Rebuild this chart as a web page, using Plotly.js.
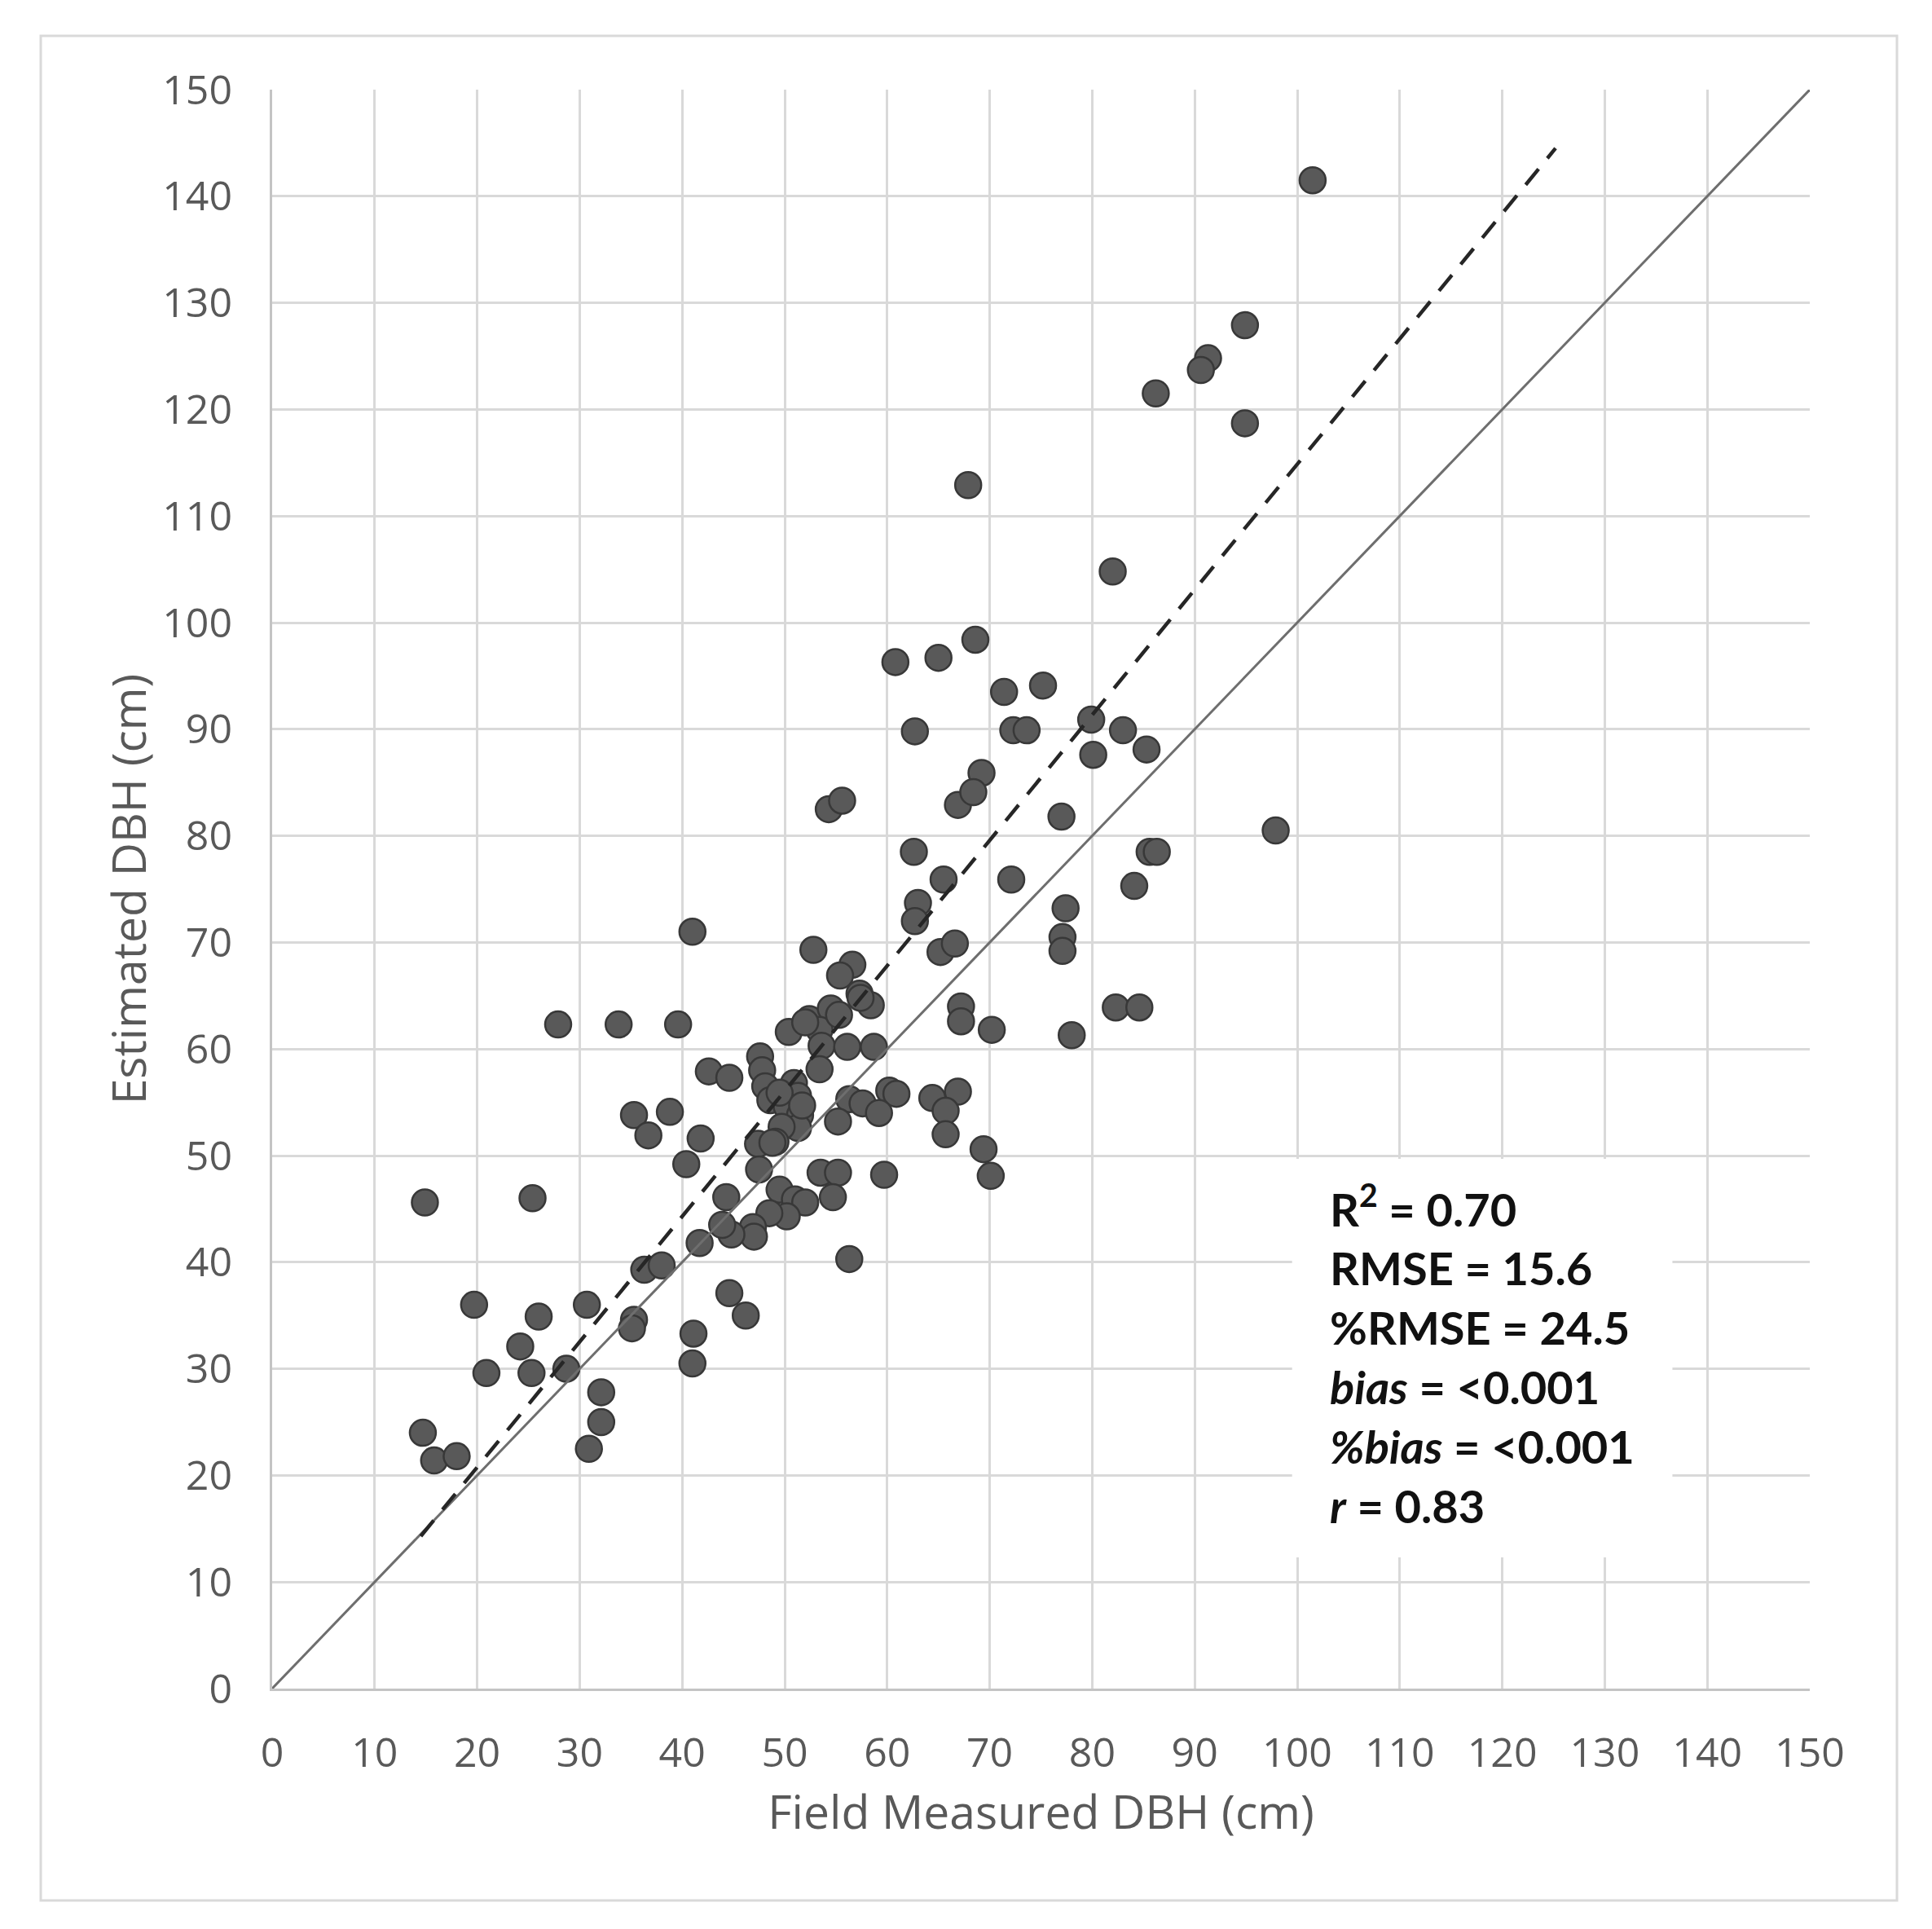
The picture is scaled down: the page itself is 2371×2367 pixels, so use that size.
<!DOCTYPE html>
<html>
<head>
<meta charset="utf-8">
<script src="https://cdn.plot.ly/plotly-3.0.1.min.js"></script>
<style>
  html, body { margin: 0; padding: 0; background: #fff; }
  #chart { width: 2371px; height: 2367px; }
</style>
</head>
<body>
<div id="chart"></div>
<script>
// Field measured vs estimated DBH (cm)
const fieldDBH = [
  101.5, 94.9, 91.3, 90.6, 86.2, 94.9, 67.9, 82.0, 68.6, 65.0,
  60.8, 71.4, 75.2, 62.7, 72.3, 73.6, 79.9, 83.0, 85.3, 80.1,
  69.2, 66.9, 68.4, 54.3, 55.6, 77.0, 97.9, 62.6, 85.6, 86.3,
  72.1, 65.5, 84.1, 77.4, 63.0, 62.7, 77.1, 77.1, 65.2, 66.6,
  52.8, 41.0, 56.6, 55.4, 57.3, 58.4, 67.2, 67.2, 82.3, 84.6,
  70.2, 78.0, 27.9, 33.8, 39.6, 50.4, 52.4, 54.5, 53.4, 53.6,
  56.1, 58.7, 53.4, 47.6, 42.6, 44.6, 47.8, 48.1, 48.6, 50.9,
  51.3, 50.2, 51.5, 51.3, 49.7, 47.4, 49.1, 47.5, 60.2, 60.9,
  56.3, 57.6, 55.2, 59.2, 64.4, 66.9, 65.7, 65.7, 69.4, 70.1,
  35.3, 36.7, 38.8, 41.8, 40.4, 53.5, 55.2, 54.7, 59.7, 56.3,
  14.9, 25.4, 44.3, 49.5, 51.0, 52.0, 50.2, 48.5, 46.9, 47.0,
  44.8, 43.9, 41.7, 36.3, 38.0, 44.6, 46.2, 19.7, 30.7, 26.0,
  35.3, 35.1, 24.2, 41.1, 41.0, 20.9, 25.3, 28.7, 32.1, 32.1,
  14.7, 30.9, 15.8, 18.0, 55.3, 52.0, 57.4, 49.5, 51.7, 48.8
];
const estimatedDBH = [
  141.5, 127.9, 124.8, 123.7, 121.5, 118.7, 112.9, 104.8, 98.4, 96.7,
  96.3, 93.5, 94.1, 89.8, 89.9, 89.9, 90.9, 89.9, 88.1, 87.6,
  85.9, 82.9, 84.1, 82.5, 83.3, 81.8, 80.5, 78.5, 78.5, 78.5,
  75.9, 75.9, 75.3, 73.2, 73.7, 72.0, 70.5, 69.2, 69.1, 69.9,
  69.3, 71.0, 67.9, 66.9, 65.2, 64.1, 64.0, 62.6, 63.9, 63.9,
  61.8, 61.3, 62.3, 62.3, 62.3, 61.6, 62.8, 63.8, 61.8, 60.3,
  60.2, 60.2, 58.1, 59.3, 57.9, 57.3, 58.0, 56.5, 55.2, 56.8,
  55.6, 54.6, 53.8, 52.6, 52.7, 51.1, 51.3, 48.7, 56.1, 55.8,
  55.3, 54.9, 53.2, 54.0, 55.4, 56.0, 54.2, 52.0, 50.6, 48.1,
  53.8, 51.9, 54.1, 51.6, 49.2, 48.4, 48.4, 46.1, 48.2, 40.3,
  45.6, 46.0, 46.1, 46.8, 45.9, 45.6, 44.3, 44.6, 43.3, 42.4,
  42.6, 43.5, 41.8, 39.3, 39.7, 37.1, 35.0, 36.0, 36.0, 34.9,
  34.6, 33.8, 32.1, 33.3, 30.5, 29.6, 29.6, 30.0, 27.8, 25.0,
  24.0, 22.5, 21.4, 21.8, 63.2, 62.5, 64.8, 55.9, 54.7, 51.2
];

// 1:1 reference line and fitted regression line end points
const oneToOneX = [0, 150];
const oneToOneY = [0, 150];
const fitX = [14.5, 125.2];
const fitY = [14.3, 144.5];

// statistics shown in the box
const statLabels = ['R<sup>2</sup>', 'RMSE', '%RMSE', '<i>bias</i>', '<i>%bias</i>', '<i>r</i>'];
const statValues = ['0.70', '15.6', '24.5', '&lt;0.001', '&lt;0.001', '0.83'];

const axisTicks = [0, 10, 20, 30, 40, 50, 60, 70, 80, 90, 100, 110, 120, 130, 140, 150];

const tickFont = { family: 'Open Sans, Noto Sans, sans-serif', size: 50, color: '#595959' };
const titleFont = { family: 'Open Sans, Noto Sans, sans-serif', size: 57, color: '#595959' };

const points = {
    x: fieldDBH,
    y: estimatedDBH,
    type: 'scatter',
    mode: 'markers',
    marker: { size: 32, color: '#595959', line: { color: '#383838', width: 2.5 } },
    hoverinfo: 'x+y'
};

const oneToOne = {
    x: oneToOneX,
    y: oneToOneY,
    type: 'scatter',
    mode: 'lines',
    line: { color: '#6e6e6e', width: 3 },
    hoverinfo: 'skip'
};

const fitLine = {
    x: fitX,
    y: fitY,
    type: 'scatter',
    mode: 'lines',
    line: { color: '#262626', width: 4.5, dash: '25px,17px' },
    hoverinfo: 'skip'
};

const statsText = statLabels.map((l, i) => l + ' = ' + statValues[i]).join('<br>');

const axisCommon = {
    range: [0, 150],
    tickmode: 'array',
    tickvals: axisTicks,
    ticktext: axisTicks.map(String),
    showgrid: true,
    gridcolor: '#d9d9d9',
    gridwidth: 3,
    zeroline: false,
    showline: true,
    linecolor: '#c4c4c4',
    linewidth: 3,
    mirror: false,
    ticks: '',
    tickfont: tickFont,
    automargin: false,
    fixedrange: true
};

const layout = {
    width: 2371,
    height: 2367,
    margin: { l: 334, r: 150, t: 110, b: 295 },
    paper_bgcolor: '#ffffff',
    plot_bgcolor: '#ffffff',
    showlegend: false,
    xaxis: Object.assign({}, axisCommon, {
        ticklabelstandoff: 33,
        title: { text: 'Field Measured DBH (cm)', font: titleFont, standoff: 10 }
    }),
    yaxis: Object.assign({}, axisCommon, {
        ticklabelstandoff: 36,
        title: { text: 'Estimated DBH (cm)', font: titleFont, standoff: 2 }
    }),
    shapes: [
        // white box behind the statistics
        {
            type: 'rect', xref: 'x', yref: 'y',
            x0: 99.5, x1: 136.6, y0: 12.3, y1: 49.7,
            fillcolor: '#ffffff', line: { width: 0 }, layer: 'between'
        },
        // light frame round the whole figure
        {
            type: 'rect', xref: 'paper', yref: 'paper',
            x0: -0.1505, x1: 1.0567, y0: -0.1325, y1: 1.0336,
            line: { color: '#d9d9d9', width: 3 }, fillcolor: 'rgba(0,0,0,0)', layer: 'above'
        }
    ],
    annotations: [{
        xref: 'x', yref: 'y',
        x: 103.0, y: 31.4,
        xanchor: 'left', yanchor: 'middle',
        align: 'left',
        showarrow: false,
        text: statsText,
        font: { family: 'Lato, Liberation Sans, sans-serif', size: 56, weight: 700, color: '#111111' }
    }]
};

Plotly.newPlot('chart', [points, oneToOne, fitLine], layout, { displayModeBar: false, staticPlot: true });
</script>
</body>
</html>
